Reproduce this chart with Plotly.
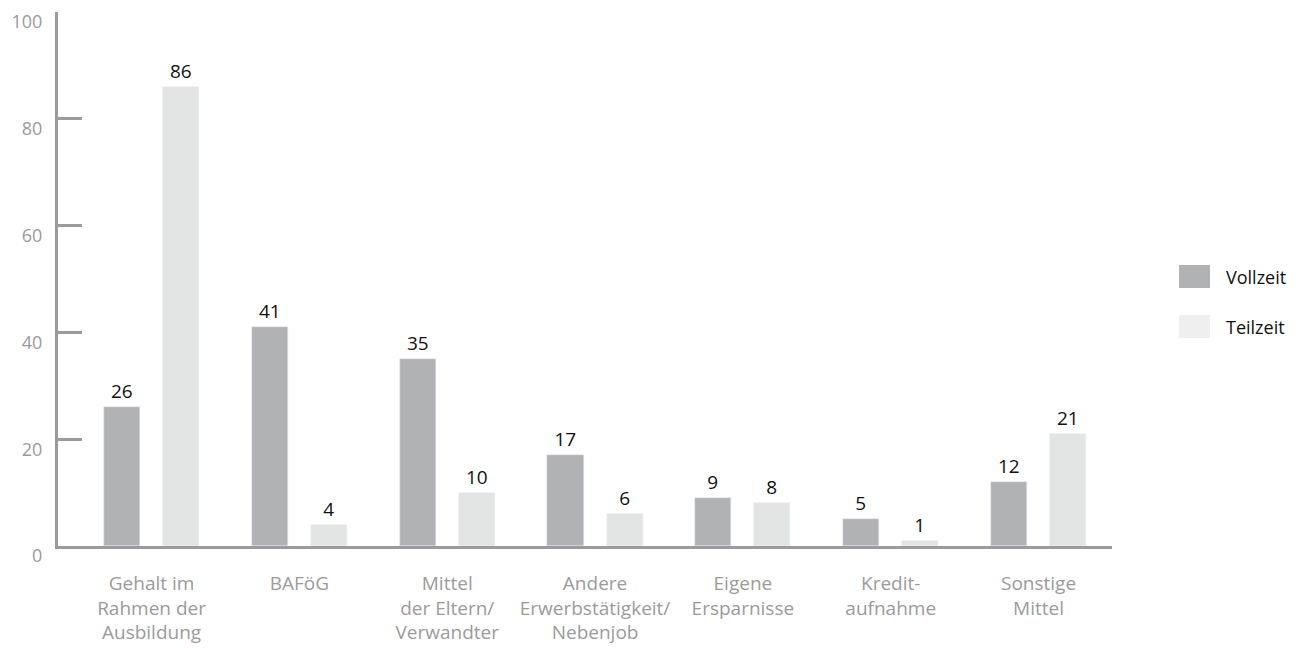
import plotly.graph_objects as go

categories = ["Gehalt im<br>Rahmen der<br>Ausbildung", "BAFöG", "Mittel<br>der Eltern/<br>Verwandter",
              "Andere<br>Erwerbstätigkeit/<br>Nebenjob", "Eigene<br>Ersparnisse", "Kredit-<br>aufnahme",
              "Sonstige<br>Mittel"]
vollzeit = [26, 41, 35, 17, 9, 5, 12]
teilzeit = [86, 4, 10, 6, 8, 1, 21]
y_ticks = [0, 20, 40, 60, 80, 100]
series_names = ["Vollzeit", "Teilzeit"]

FONT = "Open Sans"
C_V = "#b1b2b4"
C_T = "#e3e4e4"
C_T_LEG = "#efefef"
AX = "#9b9b9b"

fig = go.Figure()
fig.add_trace(go.Bar(x=categories, y=vollzeit, name=series_names[0], marker_color=C_V,
                     width=0.244, offset=-0.322, text=vollzeit, textposition="outside",
                     textfont=dict(color="#111", size=19, family=FONT), cliponaxis=False,
                     showlegend=False))
fig.add_trace(go.Bar(x=categories, y=teilzeit, name=series_names[1], marker_color=C_T,
                     width=0.244, offset=0.078, text=teilzeit, textposition="outside",
                     textfont=dict(color="#111", size=19, family=FONT), cliponaxis=False,
                     showlegend=False))

# custom legend (large swatches)
W, H = 1312, 648
L, R, T, B = 58, 200, 12, 102
pw, ph = W - L - R, H - T - B
def px(x): return (x - L) / pw
def py(y): return (H - B - y) / ph
shapes, annots = [], []
for i, (nm, c) in enumerate(zip(series_names, [C_V, C_T_LEG])):
    y0 = 265 + i * 50
    shapes.append(dict(type="rect", xref="paper", yref="paper", x0=px(1179), x1=px(1210),
                       y0=py(y0 + 23), y1=py(y0), fillcolor=c, line=dict(width=0)))
    annots.append(dict(xref="paper", yref="paper", x=px(1224), y=py(y0 + 11.5), text=nm,
                       showarrow=False, xanchor="left", yanchor="middle",
                       font=dict(family=FONT, size=18, color="#111")))

fig.update_layout(
    width=W, height=H,
    margin=dict(l=L, r=R, t=T, b=B, autoexpand=False),
    plot_bgcolor="white", paper_bgcolor="white",
    font=dict(family=FONT, size=18, color=AX),
    bargap=0, barmode="overlay", showlegend=False,
    shapes=shapes, annotations=annots,
    xaxis=dict(range=[-0.633, 6.497], showline=True, linecolor=AX, linewidth=3,
               ticks="", tickfont=dict(size=19, color=AX), showgrid=False, zeroline=False,
               ticklabelstandoff=18, automargin=False),
    yaxis=dict(range=[0, 100], tickvals=y_ticks, showline=True, linecolor=AX, linewidth=3,
               ticks="inside", ticklen=24, tickwidth=3, tickcolor=AX, showgrid=False,
               zeroline=False, tickfont=dict(size=18, color=AX), ticklabelshift=10,
               ticklabelstandoff=9, automargin=False),
)
fig.write_html("out.html")
